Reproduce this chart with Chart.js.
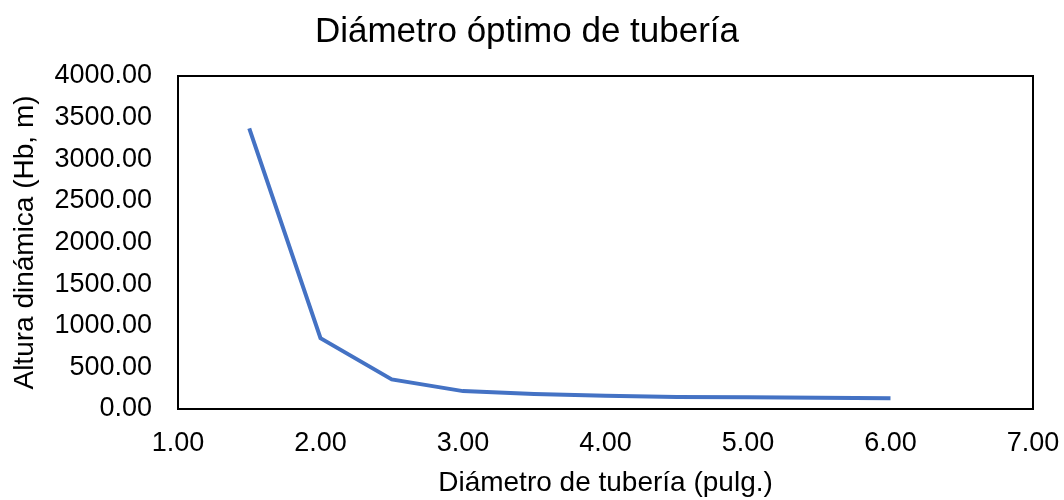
<!DOCTYPE html>
<html>
<head>
<meta charset="utf-8">
<script src="https://cdn.jsdelivr.net/npm/chart.js@4"></script>
<style>
html,body{margin:0;padding:0;background:#fff;}
#wrap{width:1064px;height:500px;}
</style>
</head>
<body>
<div id="wrap"><canvas id="c" width="1064" height="500"></canvas></div>
<script>
const diametros = [1.5, 2.0, 2.5, 3.0, 3.5, 4.0, 4.5, 5.0, 5.5, 6.0];
const alturas = [3370, 850, 355, 215, 180, 160, 145, 140, 135, 130];
const chartTitle = 'Diámetro óptimo de tubería';
const xTitle = 'Diámetro de tubería (pulg.)';
const yTitle = 'Altura dinámica (Hb, m)';

const FONT = '"Liberation Sans", Arial, sans-serif';

const borderPlugin = {
  id: 'plotBorder',
  afterDraw(chart) {
    const a = chart.chartArea, ctx = chart.ctx;
    ctx.save();
    ctx.strokeStyle = '#000';
    ctx.lineWidth = 2;
    ctx.strokeRect(a.left, a.top, a.right - a.left, a.bottom - a.top);
    ctx.restore();
  }
};

new Chart(document.getElementById('c'), {
  type: 'scatter',
  data: {
    datasets: [{
      data: diametros.map((x, i) => ({x: x, y: alturas[i]})),
      showLine: true,
      borderColor: '#4472C4',
      borderWidth: 4,
      pointRadius: 0,
      fill: false,
      tension: 0
    }]
  },
  options: {
    responsive: false,
    animation: false,
    layout: {padding: {left: 0, right: 10, top: 0, bottom: 0}},
    plugins: {
      legend: {display: false},
      tooltip: {enabled: false},
      title: {
        display: true,
        text: chartTitle,
        color: '#000',
        font: {family: FONT, size: 35, weight: 'normal', lineHeight: 1.2},
        padding: {top: 11, bottom: 23}
      }
    },
    scales: {
      x: {
        type: 'linear',
        min: 1, max: 7,
        ticks: {stepSize: 1, color: '#000', padding: 18, maxRotation: 0,
          font: {family: FONT, size: 27},
          callback: v => Number(v).toFixed(2)},
        grid: {display: false, drawTicks: false},
        border: {display: false},
        title: {display: true, text: xTitle, color: '#000',
          font: {family: FONT, size: 28}, padding: {top: 0, bottom: 0}},
        afterFit(s) { s.height = 91; s.paddingLeft = 0; s.paddingRight = 31; }
      },
      y: {
        min: 0, max: 4000,
        ticks: {stepSize: 500, color: '#000', padding: 26,
          font: {family: FONT, size: 27},
          callback: v => Number(v).toFixed(2)},
        grid: {display: false, drawTicks: false},
        border: {display: false},
        title: {display: true, text: yTitle, color: '#000',
          font: {family: FONT, size: 28}, padding: {top: 8, bottom: 0}},
        afterFit(s) { s.width = 178; s.paddingTop = 0; s.paddingBottom = 0; }
      }
    }
  },
  plugins: [borderPlugin]
});
</script>
</body>
</html>
